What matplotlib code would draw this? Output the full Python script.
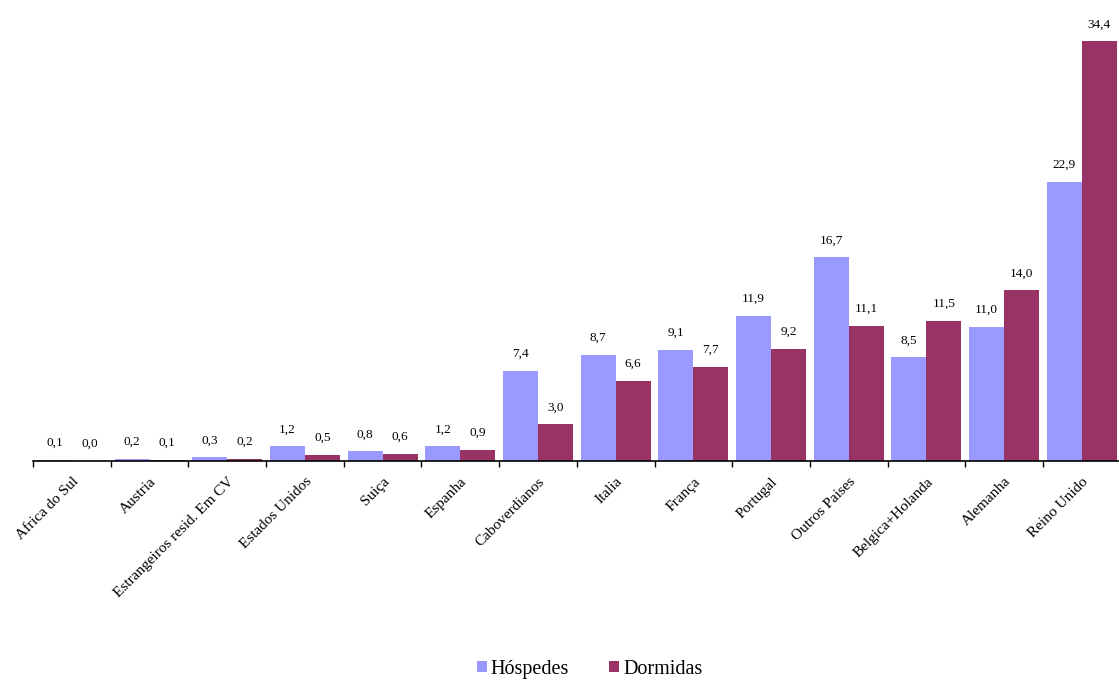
import numpy as np
import matplotlib.pyplot as plt

# dados do gráfico
paises = ['Africa do Sul', 'Austria', 'Estrangeiros resid. Em CV', 'Estados Unidos',
          'Suiça', 'Espanha', 'Caboverdianos', 'Italia', 'França', 'Portugal',
          'Outros Paises', 'Belgica+Holanda', 'Alemanha', 'Reino Unido']
hospedes = [0.1, 0.2, 0.3, 1.2, 0.8, 1.2, 7.4, 8.7, 9.1, 11.9, 16.7, 8.5, 11.0, 22.9]
dormidas = [0.0, 0.1, 0.2, 0.5, 0.6, 0.9, 3.0, 6.6, 7.7, 9.2, 11.1, 11.5, 14.0, 34.4]

plt.rcParams['font.family'] = ['Liberation Serif', 'DejaVu Serif']

fig = plt.figure(figsize=(11.19, 6.83), dpi=100)
ax = fig.add_axes([0.0295, 0.325, 0.972, 0.675])

x = np.arange(len(paises))
w = 0.45
b1 = ax.bar(x - w / 2, hospedes, w, color='#9999FF', label='Hóspedes')
b2 = ax.bar(x + w / 2, dormidas, w, color='#993366', label='Dormidas')

# rótulos dos valores
for bars, vals in ((b1, hospedes), (b2, dormidas)):
    for r, v in zip(bars, vals):
        ax.text(r.get_x() + r.get_width() / 2, v + 0.9, f'{v:.1f}'.replace('.', ','),
                ha='center', va='bottom', fontsize=9.5)

ax.set_xlim(-0.5, len(paises) - 0.5)
ax.set_ylim(0, 37.8)
ax.set_yticks([])
for s in ('top', 'right', 'left'):
    ax.spines[s].set_visible(False)
ax.spines['bottom'].set_linewidth(1.2)

ax.set_xticks(x)
ax.set_xticklabels(paises, rotation=45, ha='right', rotation_mode='anchor', fontsize=11)
ax.tick_params(axis='x', which='major', length=0, pad=10)
ax.set_xticks(np.arange(len(paises)) - 0.5, minor=True)
ax.tick_params(axis='x', which='minor', length=4, width=1)

fig.legend(loc='lower center', bbox_to_anchor=(0.527, -0.02), ncol=2, frameon=False,
           fontsize=14.5, handlelength=0.5, handleheight=0.5, handletextpad=0.2,
           columnspacing=2.0)

plt.savefig('out.png', dpi=100)
